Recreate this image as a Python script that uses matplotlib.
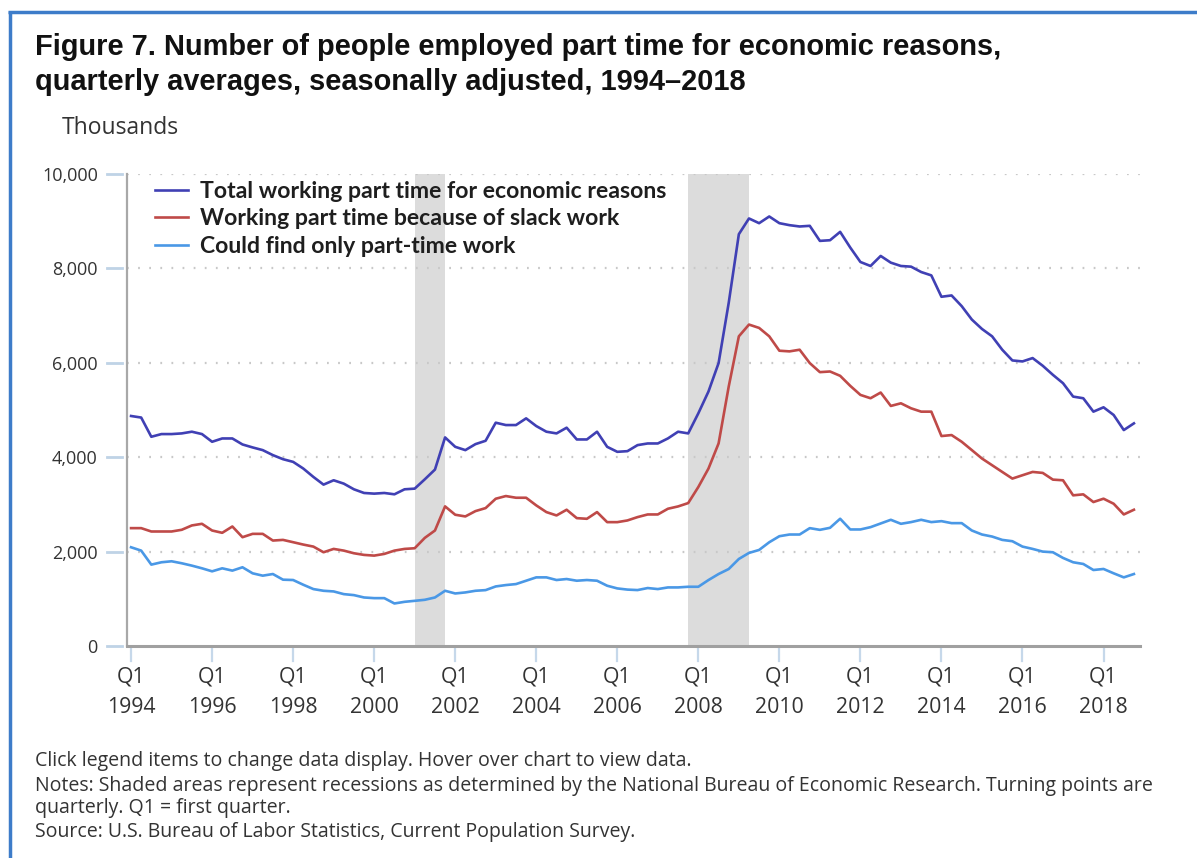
import numpy as np
import matplotlib.pyplot as plt
import matplotlib.transforms as mtransforms
from matplotlib.lines import Line2D

W, H = 1197, 858

# Quarterly observations, 1994 Q1 through 2018 Q4 (thousands)
quarter_index = np.arange(100)
quarter_pos = 1994 + 0.25 * quarter_index

total_econ = [
    4873, 4840, 4433, 4490, 4490, 4504, 4540, 4490, 4327, 4397,
    4397, 4270, 4207, 4150, 4044, 3958, 3901, 3760, 3582, 3419,
    3511, 3440, 3320, 3242, 3228,
    3242, 3214, 3320, 3334, 3532, 3738, 4419, 4220, 4150, 4277,
    4348, 4731, 4681, 4681, 4823, 4660, 4540, 4504, 4625, 4376,
    4376, 4540, 4220, 4114, 4128,
    4256, 4291, 4291, 4398, 4540, 4504, 4930, 5391, 5994, 7271,
    8725, 9058, 8958, 9100, 8958, 8916, 8888, 8902, 8583, 8597,
    8774, 8441, 8136, 8051, 8264,
    8122, 8051, 8037, 7923, 7852, 7399, 7427, 7200, 6916, 6717,
    6561, 6277, 6050, 6029, 6100, 5937, 5745, 5568, 5284, 5249,
    4965, 5057, 4894, 4575, 4717,
]

slack_work = [
    2497, 2497, 2426, 2426, 2426, 2462, 2554, 2589, 2447, 2398,
    2532, 2305, 2376, 2376, 2234, 2248, 2199, 2149, 2106, 1986,
    2057, 2021, 1965, 1930, 1915,
    1951, 2021, 2057, 2071, 2291, 2447, 2958, 2781, 2745, 2858,
    2922, 3120, 3177, 3141, 3141, 2979, 2837, 2766, 2887, 2709,
    2695, 2837, 2624, 2624, 2660,
    2731, 2787, 2787, 2908, 2957, 3028, 3369, 3759, 4292, 5497,
    6561, 6810, 6739, 6561, 6256, 6242, 6277, 5994, 5802, 5816,
    5724, 5511, 5320, 5249, 5370,
    5086, 5142, 5036, 4965, 4965, 4448, 4469, 4327, 4150, 3972,
    3830, 3688, 3547, 3618, 3688, 3667, 3525, 3511, 3192, 3213,
    3050, 3121, 3014, 2787, 2887,
]

part_time_only = [
    2092, 2021, 1724, 1774, 1795, 1753, 1703, 1646, 1582, 1646,
    1597, 1668, 1540, 1490, 1525, 1405, 1398, 1298, 1206, 1170,
    1156, 1099, 1078, 1028, 1014,
    1014, 901, 936, 957, 979, 1028, 1170, 1113, 1135, 1170,
    1184, 1262, 1291, 1312, 1383, 1454, 1454, 1398, 1419, 1383,
    1398, 1383, 1277, 1220, 1195,
    1185, 1228, 1206, 1241, 1241, 1255, 1255, 1397, 1525, 1631,
    1844, 1972, 2035, 2198, 2326, 2362, 2362, 2497, 2461, 2504,
    2696, 2469, 2469, 2518, 2596,
    2674, 2589, 2625, 2674, 2625, 2645, 2603, 2603, 2447, 2362,
    2319, 2248, 2220, 2106, 2057, 2000, 1986, 1866, 1774, 1738,
    1610, 1632, 1540, 1454, 1525,
]

series_labels = [
    "Total working part time for economic reasons",
    "Working part time because of slack work",
    "Could find only part-time work",
]
series_colors = ["#4040B4", "#BF4A48", "#4A98E6"]

# Recessions (NBER turning points, quarterly): start, end
recessions = [(2001.0, 2001.75), (2007.75, 2009.25)]

tick_years = list(range(1994, 2019, 2))
tick_labels = [f"Q1\n{y}" for y in tick_years]
y_ticks = [0, 2000, 4000, 6000, 8000, 10000]
y_tick_labels = ["0", "2,000", "4,000", "6,000", "8,000", "10,000"]

fig = plt.figure(figsize=(W / 100, H / 100), dpi=100)
fig.patch.set_facecolor("white")


def fx(px):
    return px / W


def fy(py):
    return 1 - py / H


# Plot area in pixel terms
left, right, top, bottom = 127, 1140, 174, 646
ax = fig.add_axes([fx(left), fy(bottom), fx(right - left), (bottom - top) / H])
ax.set_xlim(1993.9, 2018.9)
ax.set_ylim(0, 10000)

for start, end in recessions:
    ax.axvspan(start, end, color="#DCDCDC", lw=0, zorder=0)

for yv in y_ticks[1:]:
    ax.axhline(yv, color="#C8C8C8", lw=1.6, ls=(0, (0.8, 4.2)), zorder=1)

for vals, lab, col in zip([total_econ, slack_work, part_time_only],
                          series_labels, series_colors):
    ax.plot(quarter_pos, vals, color=col, lw=1.9, label=lab, zorder=3,
            solid_joinstyle="round")

for s in ["top", "right"]:
    ax.spines[s].set_visible(False)
ax.spines["left"].set_color("#A8A8A8")
ax.spines["left"].set_linewidth(1.6)
ax.spines["bottom"].set_color("#A0A0A0")
ax.spines["bottom"].set_linewidth(2.2)

ax.set_yticks(y_ticks)
ax.set_yticklabels(y_tick_labels)
ax.set_xticks(tick_years)
ax.set_xticklabels(tick_labels, linespacing=1.6)
ax.tick_params(axis="y", length=0, pad=21, labelsize=13, labelcolor="#333333")
ax.tick_params(axis="x", length=0, pad=15, labelsize=15.3, labelcolor="#333333")
for t in ax.get_xticklabels() + ax.get_yticklabels():
    t.set_fontfamily("Open Sans")

# Light-blue tick marks detached from the axis lines
ytrans = mtransforms.blended_transform_factory(ax.transAxes, ax.transData)
for yv in y_ticks:
    ax.add_line(Line2D([-20 / (right - left), -5 / (right - left)], [yv, yv],
                       transform=ytrans, color="#BFD3E6", lw=2, clip_on=False))
xtrans = mtransforms.blended_transform_factory(ax.transData, ax.transAxes)
for xv in tick_years:
    ax.add_line(Line2D([xv, xv], [-3 / (bottom - top), -15 / (bottom - top)],
                       transform=xtrans, color="#C6D8EA", lw=1.6, clip_on=False))

leg = ax.legend(loc="upper left", bbox_to_anchor=(28 / (right - left), 0.986),
                frameon=False, handlelength=1.44, handletextpad=0.52,
                labelspacing=0.29, borderaxespad=0, borderpad=0,
                prop={"family": "Lato", "weight": "bold", "size": 16.6})
for t in leg.get_texts():
    t.set_color("#1E1E1E")

# Titles and annotations
fig.text(fx(35), fy(47), "Figure 7. Number of people employed part time for economic reasons,",
         family="Liberation Sans", weight="bold", size=20.9, va="center", color="#111111")
fig.text(fx(35), fy(82), "quarterly averages, seasonally adjusted, 1994\u20132018",
         family="Liberation Sans", weight="bold", size=20.9, va="center", color="#111111")
fig.text(fx(62), fy(128), "Thousands", family="Open Sans", size=16.5,
         va="center", color="#333333")

notes = [
    (761, "Click legend items to change data display. Hover over chart to view data."),
    (786, "Notes: Shaded areas represent recessions as determined by the National Bureau of Economic Research. Turning points are"),
    (808, "quarterly. Q1 = first quarter."),
    (832, "Source: U.S. Bureau of Labor Statistics, Current Population Survey."),
]
for py, txt in notes:
    fig.text(fx(35), fy(py), txt, family="Open Sans", size=14.05,
             va="center", color="#333333")

# Page frame
frame_col = "#3D7CC9"
fig.add_artist(Line2D([fx(8), fx(W)], [fy(12), fy(12)], color=frame_col, lw=2.5,
                      solid_capstyle="butt"))
fig.add_artist(Line2D([fx(10), fx(10)], [fy(11), fy(H)], color=frame_col, lw=2.5,
                      solid_capstyle="butt"))

fig.savefig("out.png", dpi=100, facecolor="white")
